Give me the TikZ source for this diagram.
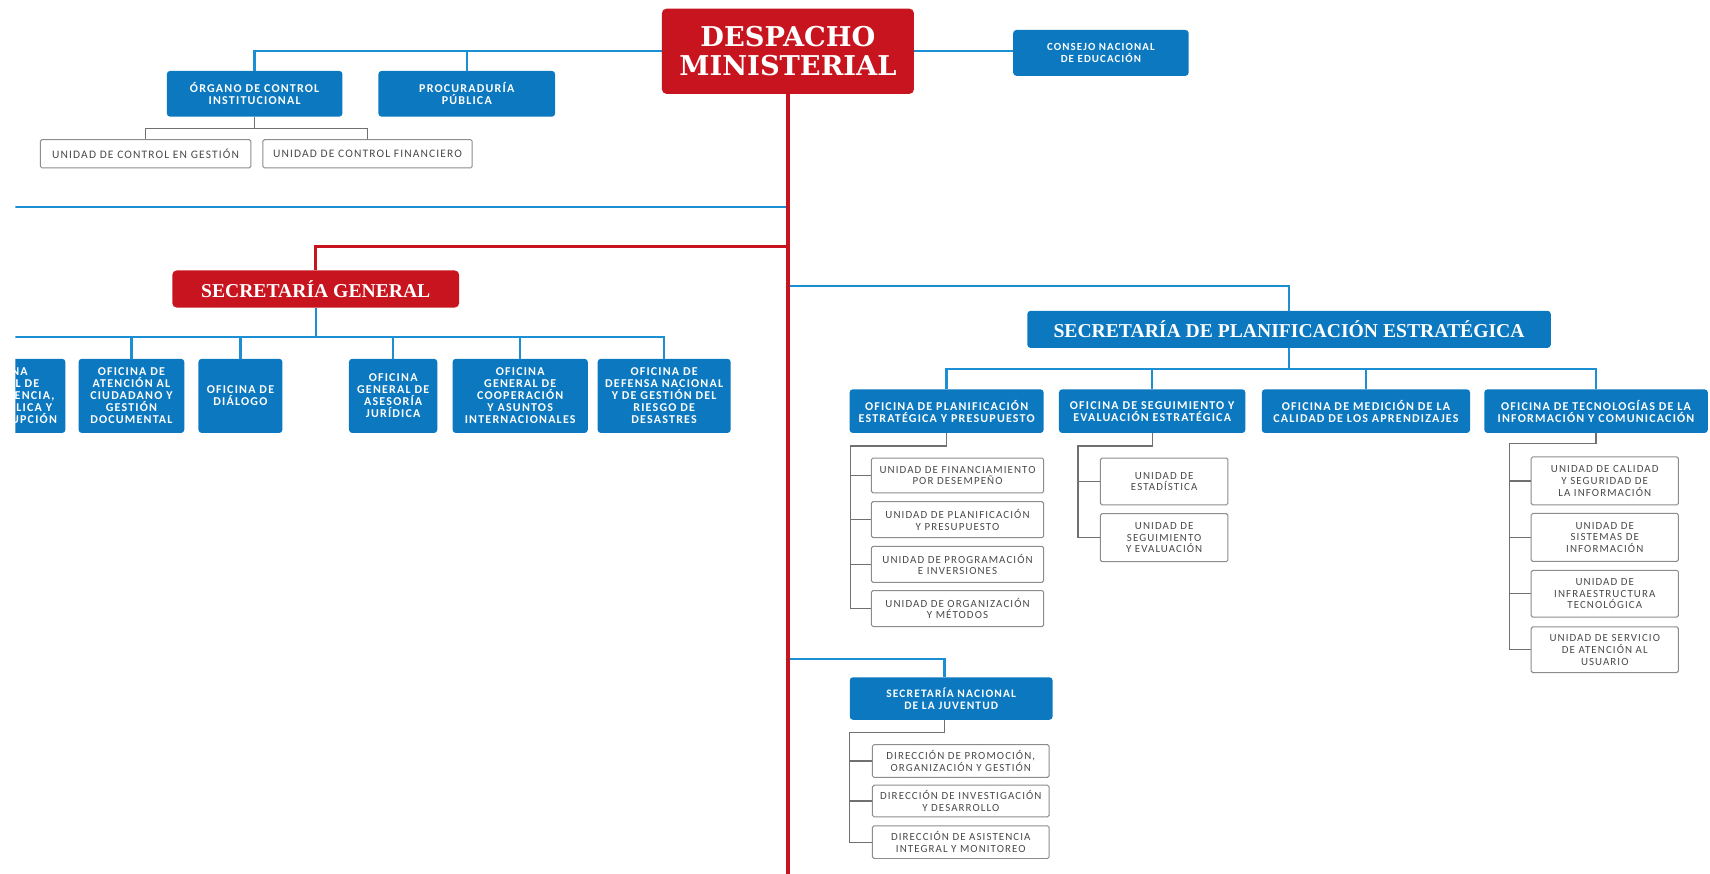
\documentclass[tikz,border=0pt]{standalone}
\usepackage{fontspec}
\newfontfamily\headfont{DejaVu Serif}
\newfontfamily\titlefont{Liberation Serif}
\newfontfamily\boxfont[LetterSpace=10]{Carlito}
\newcommand\fsz[2]{\fontsize{#1}{#2}\selectfont}
\definecolor{cred}{HTML}{C8141E}
\definecolor{cblue}{HTML}{0B78BF}
\definecolor{cline}{HTML}{1C8FD2}
\definecolor{cgrey}{HTML}{8C8C8C}
\definecolor{cgl}{HTML}{707070}
\definecolor{ctext}{HTML}{4A4A4A}
\tikzset{
  redbox/.style={fill=cred, rounded corners=4pt, text=white, align=center, inner sep=0pt},
  bluebox/.style={fill=cblue, rounded corners=3pt, text=white, align=center, inner sep=0pt},
  unitbox/.style={draw=cgrey, fill=white, line width=0.9pt, rounded corners=1.5pt, text=ctext, align=center, inner sep=0pt},
  sz/.style 2 args={minimum width=#1pt, minimum height=#2pt},
  bigtitle/.style={font=\headfont\bfseries\fsz{25}{26.5}},
  midtitle/.style={font=\titlefont\bfseries\fsz{18}{20}},
  bluetext/.style={font=\boxfont\bfseries\fsz{#1}{11}},
  unittext/.style={font=\boxfont\fsz{#1}{10.8}},
  bline/.style={draw=cline, line width=2.2pt},
  rline/.style={draw=cred, line width=3.2pt},
  gline/.style={draw=cgl, line width=1.1pt},
}
\begin{document}
\begin{tikzpicture}[x=1pt,y=-1pt]
\useasboundingbox (0,0) rectangle (1568,801);
\fill[white] (0,0) rectangle (1568,801);
\begin{scope}
\clip (14,0) rectangle (1568,801);

% ---- top level ----
\node[redbox, sz={231}{78}, bigtitle] (desp) at (722.5,47) {DESPACHO\\MINISTERIAL};
\node[bluebox, sz={161}{42}, bluetext=11] (organo) at (233.5,86) {ÓRGANO DE CONTROL\\INSTITUCIONAL};
\node[bluebox, sz={162}{42}, bluetext=11] (procu) at (428,86) {PROCURADURÍA\\PÚBLICA};
\node[unitbox, sz={193}{26}, unittext=10.5] (ucg) at (133.5,141) {UNIDAD DE CONTROL EN GESTIÓN};
\node[unitbox, sz={192}{26}, unittext=10.5] (ucf) at (337,141) {UNIDAD DE CONTROL FINANCIERO};
\node[bluebox, sz={161}{42}, bluetext=10] (consejo) at (1009.5,48.5) {CONSEJO NACIONAL\\DE EDUCACIÓN};

% ---- general secretariat ----
\node[redbox, sz={263}{34}, midtitle] (sg) at (289.5,265) {SECRETARÍA GENERAL};
\node[bluebox, sz={114}{68}, bluetext=11] (s0) at (3,363) {OFICINA\\GENERAL DE\\TRANSPARENCIA,\\ÉTICA PÚBLICA Y\\ANTICORRUPCIÓN};
\node[bluebox, sz={97}{68}, bluetext=11] (s1) at (120.5,363) {OFICINA DE\\ATENCIÓN AL\\CIUDADANO Y\\GESTIÓN\\DOCUMENTAL};
\node[bluebox, sz={77}{68}, bluetext=11] (s2) at (220.5,363) {OFICINA DE\\DIÁLOGO};
\node[bluebox, sz={81}{68}, bluetext=11] (s3) at (360.5,363) {OFICINA\\GENERAL DE\\ASESORÍA\\JURÍDICA};
\node[bluebox, sz={124}{68}, bluetext=11] (s4) at (477,363) {OFICINA\\GENERAL DE\\COOPERACIÓN\\Y ASUNTOS\\INTERNACIONALES};
\node[bluebox, sz={122}{68}, bluetext=11] (s5) at (609,363) {OFICINA DE\\DEFENSA NACIONAL\\Y DE GESTIÓN DEL\\RIESGO DE\\DESASTRES};

% ---- strategic planning secretariat ----
\node[bluebox, sz={480}{34}, midtitle] (spe) at (1182,302) {SECRETARÍA DE PLANIFICACIÓN ESTRATÉGICA};
\node[bluebox, sz={178}{40}, bluetext=11] (c1) at (868,377) {OFICINA DE PLANIFICACIÓN\\ESTRATÉGICA Y PRESUPUESTO};
\node[bluebox, sz={171}{40}, bluetext=11] (c2) at (1056.5,377) {OFICINA DE SEGUIMIENTO Y\\EVALUACIÓN ESTRATÉGICA};
\node[bluebox, sz={191}{40}, bluetext=11] (c3) at (1252.5,377) {OFICINA DE MEDICIÓN DE LA\\CALIDAD DE LOS APRENDIZAJES};
\node[bluebox, sz={205}{40}, bluetext=11] (c4) at (1463.5,377) {OFICINA DE TECNOLOGÍAS DE LA\\INFORMACIÓN Y COMUNICACIÓN};

\node[unitbox, sz={158}{32}, unittext=10] (u1) at (878,436) {UNIDAD DE FINANCIAMIENTO\\POR DESEMPEÑO};
\node[unitbox, sz={158}{33}, unittext=10] (u2) at (878,476.5) {UNIDAD DE PLANIFICACIÓN\\Y PRESUPUESTO};
\node[unitbox, sz={158}{33}, unittext=10] (u3) at (878,517.5) {UNIDAD DE PROGRAMACIÓN\\E INVERSIONES};
\node[unitbox, sz={158}{33}, unittext=10] (u4) at (878,558) {UNIDAD DE ORGANIZACIÓN\\Y MÉTODOS};

\node[unitbox, sz={117}{43}, unittext=10] (e1) at (1067.5,441.5) {UNIDAD DE\\ESTADÍSTICA};
\node[unitbox, sz={117}{44}, unittext=10] (e2) at (1067.5,493) {UNIDAD DE\\SEGUIMIENTO\\Y EVALUACIÓN};

\node[unitbox, sz={135}{44}, unittext=10] (t1) at (1471.5,441) {UNIDAD DE CALIDAD\\Y SEGURIDAD DE\\LA INFORMACIÓN};
\node[unitbox, sz={135}{44}, unittext=10] (t2) at (1471.5,492.8) {UNIDAD DE\\SISTEMAS DE\\INFORMACIÓN};
\node[unitbox, sz={135}{43}, unittext=10] (t3) at (1471.5,544.4) {UNIDAD DE\\INFRAESTRUCTURA\\TECNOLÓGICA};
\node[unitbox, sz={135}{42}, unittext=10] (t4) at (1471.5,595.8) {UNIDAD DE SERVICIO\\DE ATENCIÓN AL\\USUARIO};

% ---- youth secretariat ----
\node[bluebox, sz={186}{39}, bluetext=10.5] (snj) at (872.2,640.5) {SECRETARÍA NACIONAL\\DE LA JUVENTUD};
\node[unitbox, sz={162}{30}, unittext=10] (j1) at (881,697.8) {DIRECCIÓN DE PROMOCIÓN,\\ORGANIZACIÓN Y GESTIÓN};
\node[unitbox, sz={162}{29}, unittext=10] (j2) at (881,734.5) {DIRECCIÓN DE INVESTIGACIÓN\\Y DESARROLLO};
\node[unitbox, sz={162}{30}, unittext=10] (j3) at (881,772.2) {DIRECCIÓN DE ASISTENCIA\\INTEGRAL Y MONITOREO};

% ---- junction points and free ends ----
\coordinate (trunkend) at (722.5,801);
\coordinate (westbar) at (0,190);
\coordinate (sgturn) at (722.5,226);
\coordinate (sgbar) at (289.5,309);
\coordinate (speturn) at (722.5,262);
\coordinate (spebar) at (1182,338.5);
\coordinate (snjturn) at (722.5,604);
\coordinate (ojoin) at (233.5,117.5);
\coordinate (c1spine) at (779.5,409);
\coordinate (c2spine) at (988.5,409);
\coordinate (c4spine) at (1384,407);
\coordinate (snjspine) at (778.6,672);

% ---- blue connectors ----
\draw[bline] (desp.west) -| (organo.north);
\draw[bline] (procu.north) -- (procu.north |- desp.west);
\draw[bline] (desp.east) -- (desp.east -| consejo.west);
\draw[bline] (westbar) -- (westbar -| desp.south);
\draw[bline] (sg.south) -- (sgbar);
\draw[bline] (s0.north) |- (sgbar) -| (s5.north);
\foreach \n in {s1,s2,s3,s4} \draw[bline] (\n.north) -- (\n.north |- sgbar);
\draw[bline] (speturn) -| (spe.north);
\draw[bline] (spe.south) -- (spebar);
\draw[bline] (c1.north) |- (spebar) -| (c4.north);
\foreach \n in {c2,c3} \draw[bline] (\n.north) -- (\n.north |- spebar);
\draw[bline] (snjturn) -| ([xshift=-6pt]snj.north);

% ---- red trunk ----
\draw[rline] (desp.south) -- (trunkend);
\draw[rline] (sgturn) -| (sg.north);

% ---- grey connectors ----
\draw[gline] (organo.south) -- (ojoin);
\draw[gline] (ucg.north) |- (ojoin) -| (ucf.north);
\draw[gline] (c1.south) |- (c1spine) |- (u4.west);
\foreach \n in {u1,u2,u3} \draw[gline] (c1spine |- \n.west) -- (\n.west);
\draw[gline] (c2.south) |- (c2spine) |- (e2.west);
\draw[gline] (c2spine |- e1.west) -- (e1.west);
\draw[gline] (c4.south) |- (c4spine) |- (t4.west);
\foreach \n in {t1,t2,t3} \draw[gline] (c4spine |- \n.west) -- (\n.west);
\draw[gline] ([xshift=-6pt]snj.south) |- (snjspine) |- (j3.west);
\foreach \n in {j1,j2} \draw[gline] (snjspine |- \n.west) -- (\n.west);
\end{scope}
\end{tikzpicture}
\end{document}
